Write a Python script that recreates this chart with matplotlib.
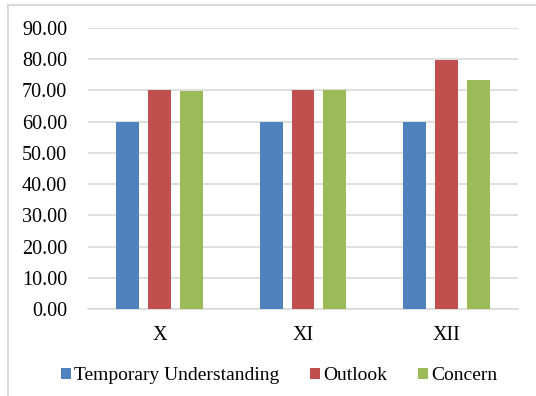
import numpy as np
import matplotlib.pyplot as plt
from matplotlib.patches import Rectangle

# Data
grades = ["X", "XI", "XII"]
temporary_understanding = [60.0, 60.0, 60.0]
outlook = [70.2, 70.2, 79.7]
concern = [69.8, 70.2, 73.4]
yticks = [0, 10, 20, 30, 40, 50, 60, 70, 80, 90]

plt.rcParams["font.family"] = ["Liberation Serif", "DejaVu Serif"]
plt.rcParams["font.size"] = 14.5

fig = plt.figure(figsize=(5.36, 3.96), dpi=100)
ax = fig.add_axes([88 / 536, 1 - 309 / 396, 430 / 536, 281 / 396])

x = np.arange(len(grades))
w = 0.16
off = 0.223
series = [
    ("Temporary Understanding", temporary_understanding, "#4F81BD"),
    ("Outlook", outlook, "#C0504D"),
    ("Concern", concern, "#9BBB59"),
]
for i, (name, vals, col) in enumerate(series):
    ax.bar(x + (i - 1) * off, vals, width=w, color=col, label=name, zorder=3)

ax.set_xlim(-0.5, 2.5)
ax.set_ylim(0, 90)
ax.set_yticks(yticks)
ax.set_yticklabels([f"{v:.2f}" for v in yticks])
ax.set_xticks(x)
ax.set_xticklabels(grades)
ax.yaxis.grid(True, color="#D9D9D9", linewidth=1.2, zorder=0)
ax.tick_params(axis="both", length=0)
ax.tick_params(axis="y", pad=15)
ax.tick_params(axis="x", pad=12)
for s in ["top", "right", "left"]:
    ax.spines[s].set_visible(False)
ax.spines["bottom"].set_color("#D9D9D9")
ax.spines["bottom"].set_linewidth(1.2)

fig.legend(loc="center", bbox_to_anchor=(279 / 536, 1 - 376 / 396), ncol=3,
           frameon=False, fontsize=14, handlelength=0.55, handleheight=0.55,
           handletextpad=0.15, columnspacing=1.55)

# light outer frame of the chart area
fig.patches.append(Rectangle((8 / 536, -0.1), 1.2, 1.1 - 5 / 396, transform=fig.transFigure,
                             fill=False, edgecolor="#D9D9D9", linewidth=1.5))

fig.savefig("out.png", dpi=100)
